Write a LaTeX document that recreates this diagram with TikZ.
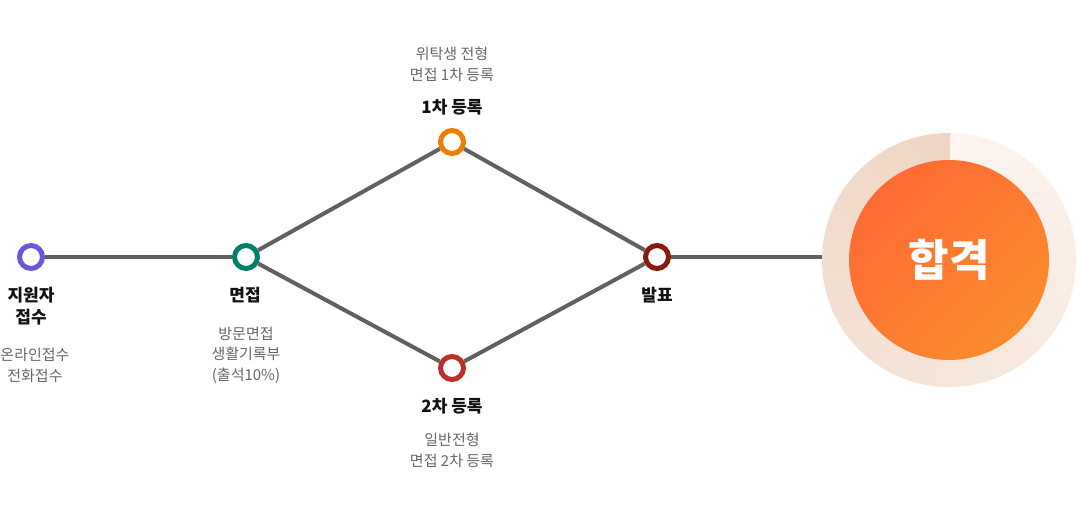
\documentclass[tikz,border=0pt]{standalone}
\usepackage{fontspec}
\setmainfont{Noto Sans CJK KR}
\definecolor{applyc}{RGB}{108,86,219}
\definecolor{interviewc}{RGB}{0,128,106}
\definecolor{firstc}{RGB}{238,125,0}
\definecolor{secondc}{RGB}{190,48,39}
\definecolor{announcec}{RGB}{138,26,14}
\definecolor{linegray}{RGB}{96,96,96}
\definecolor{notegray}{RGB}{102,102,102}
\definecolor{titlegray}{RGB}{17,17,17}
\definecolor{ringlight}{RGB}{252,245,240}
\definecolor{ringdark}{RGB}{239,214,196}
\definecolor{passdark}{RGB}{255,106,52}
\definecolor{passlight}{RGB}{251,139,46}
\begin{document}
\begin{tikzpicture}[x=1pt,y=-1pt]
  \tikzstyle{stage}=[draw,circle,line width=5pt,minimum size=23pt,inner sep=0pt,fill=white];
  \tikzstyle{title}=[font=\bfseries\fontsize{17}{22}\selectfont,text=titlegray,align=center];
  \tikzstyle{note}=[font=\fontsize{15}{20.5}\selectfont,text=notegray,align=center];
  \tikzstyle{link}=[draw=linegray,line width=4pt];
  \tikzstyle{pass}=[circle,minimum size=200pt,inner sep=0pt,shading=axis,left color=passdark,right color=passlight,shading angle=45,text=white,font=\bfseries\fontsize{44}{44}\selectfont];

  \useasboundingbox (0,0) rectangle (1080,514);

  % ring round the result, light to dark clockwise
  \begin{scope}
    \clip (949,260) circle (127);
    \foreach \a in {0,3,...,357}{
      \pgfmathsetmacro{\p}{\a/3.6}
      \fill[ringdark!\p!ringlight] (949,260) -- +(\a-90:130) -- +(\a-86.5:130) -- cycle;
    }
  \end{scope}

  \node[circle,minimum size=254pt,inner sep=0pt] (ring) at (949,260) {};
  \node[pass] (pass) at (949,260) {합격};

  \node[stage,draw=applyc] (apply) at (31,257) {};
  \node[stage,draw=interviewc] (interview) at (246,257) {};
  \node[stage,draw=firstc] (first) at (452,142) {};
  \node[stage,draw=secondc] (second) at (452,368) {};
  \node[stage,draw=announcec] (announce) at (657,257) {};

  \node[title] (applyT) at (31,306) {지원자\\접수};
  \node[note] (applyN) at (35,365.5) {온라인접수\\전화접수};
  \node[title] (interviewT) at (245,295) {면접};
  \node[note] (interviewN) at (246,355) {방문면접\\생활기록부\\(출석10\%)};
  \node[note] (firstN) at (452,64.5) {위탁생 전형\\면접 1차 등록};
  \node[title] (firstT) at (452,107) {1차 등록};
  \node[title] (secondT) at (452,406) {2차 등록};
  \node[note] (secondN) at (452,450.5) {일반전형\\면접 2차 등록};
  \node[title] (announceT) at (657,295) {발표};

  % apply => interview
  \draw[link] (apply) -- (interview);

  % interview => 1st / 2nd
  \draw[link] (interview) -- (first);
  \draw[link] (interview) -- (second);

  % 1st / 2nd => announce
  \draw[link] (first) -- (announce);
  \draw[link] (second) -- (announce);

  % announce => pass
  \draw[link] (announce.east) -- (announce.east -| ring.west);

\end{tikzpicture}
\end{document}
